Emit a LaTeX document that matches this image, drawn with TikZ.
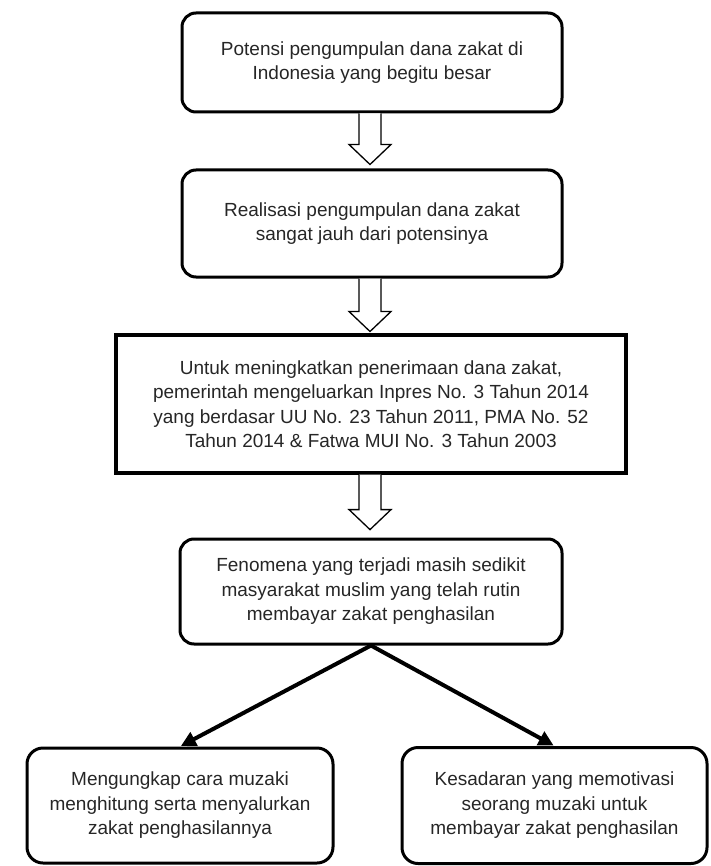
\documentclass[tikz,border=0pt]{standalone}
\usepackage{fontspec}
\setmainfont{Liberation Sans}
\usetikzlibrary{calc,arrows.meta}
\begin{document}
\begin{tikzpicture}[x=1pt,y=-1pt,
  txt/.style={font=\fontsize{19}{24.5}\selectfont, text=black!85, align=center},
  rbox/.style={txt, draw=black, line width=3pt, rounded corners=14pt, inner sep=0pt},
  sbox/.style={txt, draw=black, line width=3.2pt, inner sep=0pt},
  blk/.style={draw=black, line width=1.3pt, fill=white, line join=miter},
  thick arrow/.style={draw=black, line width=4pt, -{Triangle[length=15pt,width=15pt]}, shorten >=1pt}
]
\useasboundingbox (0,0) rectangle (710,866);

\node[rbox, minimum width=380pt, minimum height=99pt] (b1) at (372,62.5)
  {Potensi pengumpulan dana zakat di\\Indonesia yang begitu besar};
\node[rbox, minimum width=380pt, minimum height=107pt] (b2) at (372,223.5)
  {Realisasi pengumpulan dana zakat\\sangat jauh dari potensinya};
\node[sbox, minimum width=510pt, minimum height=138pt] (b3) at (371,404)
  {Untuk meningkatkan penerimaan dana zakat,\\pemerintah mengeluarkan Inpres No. 3 Tahun 2014\\yang berdasar UU No. 23 Tahun 2011, PMA No. 52\\Tahun 2014 \& Fatwa MUI No. 3 Tahun 2003};
\node[rbox, minimum width=382pt, minimum height=105pt] (b4) at (371,591.5)
  {Fenomena yang terjadi masih sedikit\\masyarakat muslim yang telah rutin\\membayar zakat penghasilan};
\node[rbox, rounded corners=16pt, minimum width=306pt, minimum height=115pt] (b5) at (180,805.5)
  {Mengungkap cara muzaki\\menghitung serta menyalurkan\\zakat penghasilannya};
\node[rbox, rounded corners=16pt, minimum width=305pt, minimum height=116pt] (b6) at (554.5,805.5)
  {Kesadaran yang memotivasi\\seorang muzaki untuk\\membayar zakat penghasilan};

% hollow block arrows
\draw[blk] ($(b1.south)+(-13,0)$) -- ++(0,31) -- ++(-10,0) -- ++(21,20) -- ++(21,-20) -- ++(-10,0) -- ++(0,-31);
\draw[blk] ($(b2.south)+(-13,0)$) -- ++(0,33) -- ++(-10,0) -- ++(21,20) -- ++(21,-20) -- ++(-10,0) -- ++(0,-33);
\draw[blk] ($(b3.south)+(-12,0)$) -- ++(0,35) -- ++(-10,0) -- ++(21,20) -- ++(21,-20) -- ++(-10,0) -- ++(0,-35);

% thick arrows
\draw[thick arrow] (b4.south) -- (b5.north);
\draw[thick arrow] (b4.south) -- (b6.north);
\end{tikzpicture}
\end{document}
